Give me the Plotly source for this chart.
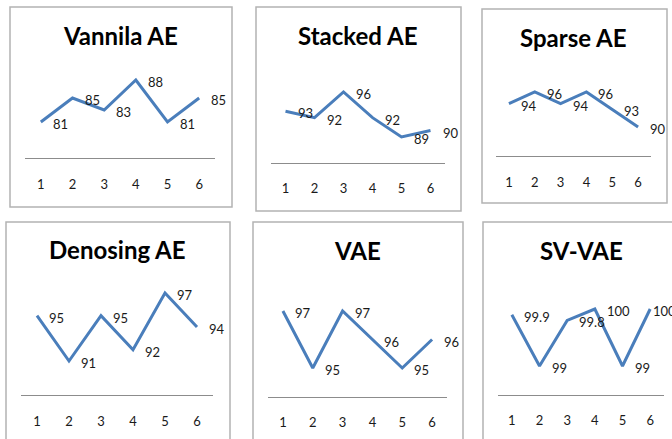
import plotly.graph_objects as go

W, H = 672, 439

titles = ["Vannila AE", "Stacked AE", "Sparse AE", "Denosing AE", "VAE", "SV-VAE"]
categories = [1, 2, 3, 4, 5, 6]
vanilla_ae = [81, 85, 83, 88, 81, 85]
stacked_ae = [93, 92, 96, 92, 89, 90]
sparse_ae = [94, 96, 94, 96, 93, 90]
denoising_ae = [95, 91, 95, 92, 97, 94]
vae = [97, 95, 97, 96, 95, 96]
sv_vae = [99.9, 99, 99.8, 100, 99, 100]
series = [vanilla_ae, stacked_ae, sparse_ae, denoising_ae, vae, sv_vae]
tick_labels = ["1", "2", "3", "4", "5", "6"]

# layout (pixels): plot area x0, x1, y_top, y_bottom ; y range ; box ; title centre
panels = [
    dict(px=(25, 215), py=(68, 158), yr=(75, 90), box=(10, 7, 232, 207), tc=(120, 35), last_shift=10),
    dict(px=(271, 445), py=(79.1, 162.7), yr=(85, 98), box=(256, 7, 461, 211), tc=(357, 35), last_shift=10),
    dict(px=(496, 651), py=(80.3, 156.2), yr=(85, 98), box=(482, 9, 667, 203), tc=(573, 37), last_shift=10),
    dict(px=(21, 213), py=(281.7, 395), yr=(88, 98), box=(6, 222, 230, 460), tc=(117, 249), last_shift=10),
    dict(px=(268, 447), py=(296.75, 396.5), yr=(94, 97.5), box=(253, 222, 463, 460), tc=(357, 250), last_shift=10),
    dict(px=(498, 664), py=(297.6, 394.5), yr=(98.5, 100.2), box=(483, 222, 700, 460), tc=(581, 250), last_shift=1),
]

FONT = "Lato"
LINE = "#4A7EBB"

fig = go.Figure()
shapes = []
annotations = []

for i, (p, vals, title) in enumerate(zip(panels, series, titles)):
    n = i + 1
    xa = "x" if n == 1 else f"x{n}"
    ya = "y" if n == 1 else f"y{n}"
    xkey = "xaxis" if n == 1 else f"xaxis{n}"
    ykey = "yaxis" if n == 1 else f"yaxis{n}"

    fig.add_trace(go.Scatter(
        x=categories, y=vals, mode="lines",
        line=dict(color=LINE, width=3),
        xaxis=xa, yaxis=ya, showlegend=False, hoverinfo="skip",
        cliponaxis=False,
    ))
    fig.update_layout({
        xkey: dict(
            domain=[p["px"][0] / W, p["px"][1] / W],
            anchor=ya, range=[0.5, 6.5],
            tickmode="array", tickvals=categories, ticktext=tick_labels,
            showgrid=False, zeroline=False, showline=True,
            linecolor="#8C8C8C", linewidth=1, ticks="",
            ticklabelstandoff=14,
            tickfont=dict(family=FONT, size=13, color="#1a1a1a"),
            fixedrange=True,
        ),
        ykey: dict(
            domain=[1 - p["py"][1] / H, 1 - p["py"][0] / H],
            anchor=xa, range=list(p["yr"]),
            visible=False, fixedrange=True,
        ),
    })
    for j, (xv, yv) in enumerate(zip(categories, vals)):
        annotations.append(dict(
            x=xv, y=yv, xref=xa, yref=ya, text=f"{yv:g}",
            showarrow=False, xanchor="left", yanchor="middle",
            xshift=p["last_shift"] if j == len(vals) - 1 else 10, yshift=-2,
            font=dict(family=FONT, size=13, color="#1a1a1a"),
        ))
    bx0, by0, bx1, by1 = p["box"]
    shapes.append(dict(
        type="rect", xref="paper", yref="paper",
        x0=bx0 / W, x1=bx1 / W, y0=1 - by1 / H, y1=1 - by0 / H,
        line=dict(color="#B3B3B3", width=1.5), fillcolor="rgba(0,0,0,0)",
        layer="below",
    ))
    annotations.append(dict(
        x=p["tc"][0] / W, y=1 - p["tc"][1] / H, xref="paper", yref="paper",
        text=f"<b>{title}</b>", showarrow=False,
        xanchor="center", yanchor="middle",
        font=dict(family=FONT, size=24, color="#000000"),
    ))

fig.update_layout(
    width=W, height=H,
    margin=dict(l=0, r=0, t=0, b=0),
    paper_bgcolor="white", plot_bgcolor="white",
    shapes=shapes, annotations=annotations,
    showlegend=False,
)

fig.write_html(
    "out.html",
    config={"displayModeBar": False},
    post_script="document.body.style.margin='0';document.body.style.overflow='hidden';",
)
